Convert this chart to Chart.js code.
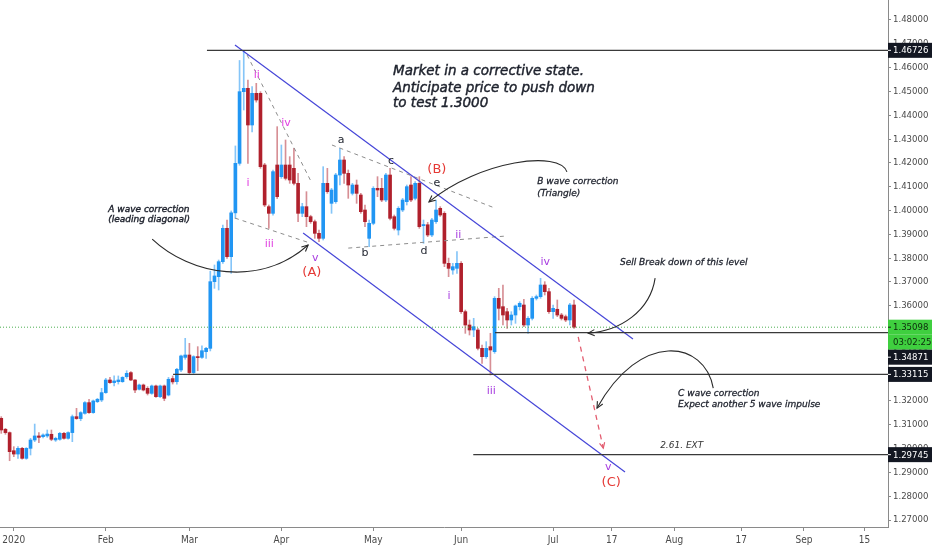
<!DOCTYPE html>
<html><head><meta charset="utf-8">
<script src="https://cdn.jsdelivr.net/npm/chart.js@4.4.1/dist/chart.umd.min.js"></script>
<style>html,body{margin:0;padding:0;background:#fff;}#wrap{width:932px;height:550px;position:relative;}</style>
</head><body><div id="wrap"><canvas id="c" width="932" height="550"></canvas></div>
<script>
// ---- DATA (daily candles, trading-day index; index 0 = 1 Jan 2020) ----
const firstIndex = -2;
const openP = [1.3127,1.3081,1.3067,1.2991,1.2977,1.3001,1.2959,1.3001,1.3036,1.3053,1.3050,1.3053,1.3060,1.3036,1.3039,1.3064,1.3043,1.3067,1.3134,1.3126,1.3148,1.3193,1.3151,1.3197,1.3204,1.3235,1.3288,1.3277,1.3281,1.3281,1.3302,1.3319,1.3288,1.3249,1.3267,1.3253,1.3232,1.3263,1.3218,1.3263,1.3225,1.3294,1.3281,1.3330,1.3383,1.3393,1.3319,1.3386,1.3383,1.3407,1.3421,1.3701,1.3722,1.3785,1.3925,1.3806,1.3990,1.4198,1.4499,1.4513,1.4359,1.4492,1.4492,1.4191,1.4016,1.3988,1.4191,1.4142,1.4191,1.4191,1.4177,1.4114,1.3988,1.4016,1.3974,1.3953,1.3904,1.3883,1.4114,1.4030,1.4037,1.4149,1.4212,1.4156,1.4072,1.4107,1.4065,1.4002,1.3883,1.3946,1.4093,1.4093,1.4044,1.4149,1.3974,1.3918,1.4002,1.4037,1.4107,1.4051,1.4114,1.3936,1.3940,1.3897,1.3953,1.4009,1.3988,1.3778,1.3750,1.3757,1.3778,1.3575,1.3519,1.3498,1.3498,1.3421,1.3386,1.3428,1.3407,1.3631,1.3596,1.3575,1.3540,1.3561,1.3596,1.3603,1.3519,1.3547,1.3631,1.3638,1.3687,1.3659,1.3575,1.3585,1.3561,1.3554,1.3540,1.3603];
const highP = [1.3134,1.3085,1.3070,1.3008,1.3008,1.3005,1.3004,1.3043,1.3103,1.3067,1.3062,1.3078,1.3078,1.3048,1.3068,1.3068,1.3070,1.3141,1.3169,1.3155,1.3197,1.3207,1.3204,1.3211,1.3253,1.3295,1.3299,1.3305,1.3305,1.3302,1.3327,1.3323,1.3290,1.3271,1.3271,1.3260,1.3267,1.3267,1.3267,1.3267,1.3299,1.3305,1.3337,1.3393,1.3463,1.3442,1.3390,1.3428,1.3431,1.3425,1.3745,1.3771,1.3792,1.3939,1.3960,1.3998,1.4271,1.4630,1.4672,1.4548,1.4520,1.4534,1.4499,1.4198,1.4023,1.4170,1.4352,1.4275,1.4296,1.4226,1.4261,1.4156,1.4030,1.4079,1.3980,1.3960,1.3918,1.4184,1.4177,1.4093,1.4156,1.4261,1.4226,1.4170,1.4114,1.4128,1.4072,1.4023,1.3960,1.4100,1.4142,1.4135,1.4156,1.4177,1.3981,1.4016,1.4051,1.4107,1.4142,1.4121,1.4142,1.3960,1.3950,1.3967,1.4044,1.4016,1.3995,1.3800,1.3778,1.3827,1.3785,1.3582,1.3540,1.3547,1.3505,1.3435,1.3449,1.3484,1.3638,1.3673,1.3687,1.3589,1.3575,1.3603,1.3617,1.3627,1.3554,1.3638,1.3645,1.3715,1.3701,1.3673,1.3603,1.3624,1.3568,1.3561,1.3610,1.3624];
const lowP = [1.3064,1.3060,1.2949,1.2966,1.2959,1.2955,1.2955,1.2973,1.3029,1.3025,1.3045,1.3047,1.3033,1.3030,1.3035,1.3040,1.3040,1.3029,1.3123,1.3117,1.3145,1.3148,1.3148,1.3193,1.3197,1.3232,1.3274,1.3263,1.3271,1.3278,1.3295,1.3285,1.3235,1.3246,1.3242,1.3225,1.3228,1.3215,1.3214,1.3201,1.3221,1.3271,1.3271,1.3323,1.3375,1.3313,1.3315,1.3327,1.3379,1.3379,1.3410,1.3673,1.3666,1.3778,1.3799,1.3736,1.3967,1.4190,1.4422,1.4198,1.4330,1.4455,1.4177,1.4016,1.3925,1.3980,1.4050,1.4135,1.4128,1.4114,1.4107,1.3953,1.3974,1.3932,1.3946,1.3883,1.3869,1.3876,1.4072,1.3988,1.4030,1.4107,1.4114,1.4051,1.4065,1.4030,1.3988,1.3932,1.3848,1.3940,1.4058,1.4037,1.4037,1.3960,1.3918,1.3897,1.3995,1.4023,1.4037,1.4044,1.3925,1.3862,1.3890,1.3890,1.3946,1.3975,1.3764,1.3722,1.3732,1.3736,1.3568,1.3484,1.3477,1.3470,1.3414,1.3358,1.3379,1.3309,1.3400,1.3540,1.3519,1.3505,1.3519,1.3526,1.3582,1.3512,1.3484,1.3540,1.3624,1.3631,1.3645,1.3568,1.3547,1.3554,1.3540,1.3533,1.3519,1.3505];
const closeP = [1.3078,1.3067,1.2987,1.2977,1.3001,1.2959,1.3001,1.3036,1.3053,1.3047,1.3057,1.3061,1.3039,1.3043,1.3064,1.3043,1.3067,1.3134,1.3126,1.3151,1.3193,1.3151,1.3200,1.3207,1.3235,1.3288,1.3277,1.3284,1.3288,1.3299,1.3316,1.3288,1.3246,1.3267,1.3246,1.3232,1.3263,1.3218,1.3263,1.3211,1.3291,1.3280,1.3333,1.3389,1.3393,1.3319,1.3386,1.3382,1.3411,1.3421,1.3701,1.3725,1.3785,1.3925,1.3806,1.3990,1.4198,1.4499,1.4513,1.4359,1.4492,1.4464,1.4184,1.4023,1.3988,1.4163,1.4058,1.4191,1.4135,1.4128,1.4114,1.3988,1.4016,1.3974,1.3953,1.3904,1.3883,1.4114,1.4079,1.4086,1.4149,1.4212,1.4156,1.4107,1.4107,1.4072,1.3995,1.3953,1.3946,1.4093,1.4086,1.4044,1.4149,1.3967,1.3925,1.4009,1.4044,1.4100,1.4044,1.4114,1.3932,1.3941,1.3897,1.3960,1.4002,1.3981,1.3778,1.3757,1.3764,1.3778,1.3575,1.3519,1.3498,1.3512,1.3421,1.3386,1.3421,1.3414,1.3631,1.3589,1.3561,1.3540,1.3561,1.3599,1.3610,1.3519,1.3547,1.3631,1.3638,1.3687,1.3659,1.3575,1.3589,1.3561,1.3547,1.3540,1.3603,1.35098];

const xTickValues = [1, 23, 43, 65, 87, 108, 130, 144, 159, 175, 190, 204.5];
const xTickLabels = ['2020','Feb','Mar','Apr','May','Jun','Jul','17','Aug','17','Sep','15'];
const yTickValues = [1.27,1.28,1.29,1.30,1.31,1.32,1.33,1.34,1.35,1.36,1.37,1.38,1.39,1.40,1.41,1.42,1.43,1.44,1.45,1.46,1.47,1.48];

// horizontal levels: price and starting index
const levelPrices = [1.46726, 1.33115, 1.34871, 1.29745];
const levelStarts = [47.2, 39.1, 116.1, 110.9];
const lastPrice = 1.35098;
const countdown = '03:02:25';

// channel and wave structure lines [x1, y1, x2, y2] in (index, price)
const channelUpper = [53.9, 1.4695, 149.1, 1.3460];
const channelLower = [70.2, 1.3905, 147.2, 1.2902];
const diagUpper = [56.8, 1.4653, 72.3, 1.4115];
const diagLower = [53.9, 1.3968, 71.9, 1.3863];
const triUpper = [77.1, 1.4275, 116.1, 1.4010];
const triLower = [81.0, 1.3842, 119.0, 1.3893];
const projection = [136.0, 1.3469, 142.0, 1.3002];

// ---- chart ----
const XMIN = -2.3, XMAX = 210.1, YMIN = 1.26706, YMAX = 1.4884;
const xs = openP.map((_, i) => firstIndex + i);
const up = openP.map((o, i) => closeP[i] >= o);
const UP = '#2196f3', DN = '#b0202c';
const UPW = 'rgba(33,150,243,0.55)', DNW = 'rgba(176,32,44,0.5)';

function seg(a, color, width, dash) {
  return { type: 'line', data: [{x: a[0], y: a[1]}, {x: a[2], y: a[3]}], borderColor: color, borderWidth: width,
    borderDash: dash || [], pointRadius: 0, fill: false, tension: 0, order: 0 };
}
const datasets = [
  { type: 'bar', data: xs.map((x, i) => ({x, y: [lowP[i], highP[i]]})), backgroundColor: up.map(u => u ? UPW : DNW),
    barThickness: 1, grouped: false, order: 6, borderWidth: 0 },
  { type: 'bar', data: xs.map((x, i) => ({x, y: [Math.min(openP[i], closeP[i]), Math.max(openP[i], closeP[i])]})),
    backgroundColor: up.map(u => u ? UP : DN), barThickness: 3, grouped: false, minBarLength: 1, order: 5, borderWidth: 0 },
  seg([XMIN, lastPrice, XMAX, lastPrice], '#4caf50', 1, [1, 2]),
];
levelPrices.forEach((p, i) => datasets.push(seg([levelStarts[i], p, XMAX, p], '#3a3a3a', 1.3)));
datasets.push(seg(channelUpper, '#4646d8', 1.2));
datasets.push(seg(channelLower, '#4646d8', 1.2));
[diagUpper, diagLower, triUpper, triLower].forEach(a => datasets.push(seg(a, '#8c8c8c', 1, [4, 4])));
datasets.push(seg(projection, '#e35d70', 1.3, [5, 5]));

// curved arrows: [start, cp1, cp2, end] in (index, price)
const arrows = [
  [[34.1, 1.3880], [43.2, 1.3729], [59.9, 1.3674], [71.4, 1.3855]],
  [[133.3, 1.4162], [131.7, 1.4254], [112.5, 1.4212], [100.3, 1.4036]],
  [[154.4, 1.3716], [153.2, 1.3578], [146.1, 1.3494], [138.4, 1.3485]],
  [[168.3, 1.3254], [166.3, 1.3455], [150.8, 1.3497], [140.5, 1.3170]],
];
const FONT = '"DejaVu Sans", sans-serif';
const MAG = '#e040e0', PUR = '#a83de0', RED = '#e53935', INK = '#1e222d';
const BIG = 'italic 13.5px ' + FONT, SM = 'italic 9px ' + FONT;
const notes = [
  {t: 'Market in a corrective state.', x: 91.7, y: 1.4585, f: BIG, c: INK, w: 0.45},
  {t: 'Anticipate price to push down', x: 91.7, y: 1.4513, f: BIG, c: INK, w: 0.45},
  {t: 'to test 1.3000', x: 91.7, y: 1.4450, f: BIG, c: INK, w: 0.45},
  {t: 'A wave correction', x: 23.6, y: 1.4004, f: SM, c: INK, w: 0.4},
  {t: '(leading diagonal)', x: 23.6, y: 1.3960, f: SM, c: INK, w: 0.4},
  {t: 'B wave correction', x: 126.2, y: 1.4120, f: SM, c: INK, w: 0.3},
  {t: '(Triangle)', x: 126.2, y: 1.4069, f: SM, c: INK, w: 0.3},
  {t: 'Sell Break down of this level', x: 146.0, y: 1.3779, f: SM, c: INK, w: 0.3},
  {t: 'C wave correction', x: 159.9, y: 1.3229, f: SM, c: INK, w: 0.3},
  {t: 'Expect another 5 wave impulse', x: 159.9, y: 1.3183, f: SM, c: INK, w: 0.3},
  {t: '2.61. EXT', x: 155.6, y: 1.3011, f: SM, c: '#333'},
  {t: 'ii', x: 59.1, y: 1.4569, f: '11px ' + FONT, c: MAG, a: 'center'},
  {t: 'iv', x: 66.1, y: 1.4367, f: '11px ' + FONT, c: MAG, a: 'center'},
  {t: 'i', x: 57.0, y: 1.4115, f: '11px ' + FONT, c: MAG, a: 'center'},
  {t: 'iii', x: 62.1, y: 1.3859, f: '11px ' + FONT, c: MAG, a: 'center'},
  {t: 'v', x: 73.1, y: 1.3800, f: '11px ' + FONT, c: PUR, a: 'center'},
  {t: '(A)', x: 72.3, y: 1.3737, f: '13px ' + FONT, c: RED, a: 'center'},
  {t: 'a', x: 79.3, y: 1.4296, f: '11px ' + FONT, c: INK, a: 'center'},
  {t: 'b', x: 85.0, y: 1.3821, f: '11px ' + FONT, c: INK, a: 'center'},
  {t: 'c', x: 91.2, y: 1.4208, f: '11px ' + FONT, c: INK, a: 'center'},
  {t: 'd', x: 99.1, y: 1.3830, f: '11px ' + FONT, c: INK, a: 'center'},
  {t: 'e', x: 102.2, y: 1.4115, f: '11px ' + FONT, c: INK, a: 'center'},
  {t: '(B)', x: 102.2, y: 1.4170, f: '13px ' + FONT, c: RED, a: 'center'},
  {t: 'ii', x: 107.3, y: 1.3897, f: '11px ' + FONT, c: PUR, a: 'center'},
  {t: 'i', x: 105.1, y: 1.3641, f: '11px ' + FONT, c: PUR, a: 'center'},
  {t: 'iii', x: 115.2, y: 1.3242, f: '11px ' + FONT, c: PUR, a: 'center'},
  {t: 'iv', x: 128.1, y: 1.3784, f: '11px ' + FONT, c: PUR, a: 'center'},
  {t: 'v', x: 143.2, y: 1.2923, f: '11px ' + FONT, c: PUR, a: 'center'},
  {t: '(C)', x: 143.9, y: 1.2855, f: '13px ' + FONT, c: RED, a: 'center'},
];
const priceBoxes = [
  {v: levelPrices[0], t: levelPrices[0].toFixed(5), bg: '#131722', fg: '#ffffff'},
  {v: lastPrice, t: lastPrice.toFixed(5), bg: '#3fcf3f', fg: '#0d2a0d', next: countdown},
  {v: levelPrices[2], t: levelPrices[2].toFixed(5), bg: '#131722', fg: '#ffffff'},
  {v: levelPrices[1], t: levelPrices[1].toFixed(5), bg: '#131722', fg: '#ffffff'},
  {v: levelPrices[3], t: levelPrices[3].toFixed(5), bg: '#131722', fg: '#ffffff'},
];
const AXFONT = '"Liberation Sans Narrow", "DejaVu Sans Condensed", "Liberation Sans", sans-serif';

function head(ctx, x0, y0, x1, y1, len) {
  const ang = Math.atan2(y1 - y0, x1 - x0);
  ctx.beginPath();
  ctx.moveTo(x1 - len * Math.cos(ang - 0.45), y1 - len * Math.sin(ang - 0.45));
  ctx.lineTo(x1, y1);
  ctx.lineTo(x1 - len * Math.cos(ang + 0.45), y1 - len * Math.sin(ang + 0.45));
  ctx.stroke();
}
const annot = {
  id: 'annot',
  afterDatasetsDraw(chart) {
    const {ctx, chartArea: ca, scales: {x, y}} = chart;
    const X = v => x.getPixelForValue(v), Y = v => y.getPixelForValue(v);
    ctx.save();
    ctx.beginPath(); ctx.rect(ca.left, ca.top, ca.right - ca.left, ca.bottom - ca.top); ctx.clip();
    ctx.strokeStyle = '#2a2a2a'; ctx.lineWidth = 1.1;
    arrows.forEach(a => {
      const p = a.map(q => [X(q[0]), Y(q[1])]);
      ctx.beginPath(); ctx.moveTo(p[0][0], p[0][1]);
      ctx.bezierCurveTo(p[1][0], p[1][1], p[2][0], p[2][1], p[3][0], p[3][1]); ctx.stroke();
      head(ctx, p[2][0], p[2][1], p[3][0], p[3][1], 7);
    });
    ctx.strokeStyle = '#e35d70'; ctx.lineWidth = 1.2;
    head(ctx, X(projection[0]), Y(projection[1]), X(projection[2]), Y(projection[3]), 6);
    ctx.textBaseline = 'middle';
    notes.forEach(n => {
      ctx.font = n.f; ctx.fillStyle = n.c; ctx.textAlign = n.a || 'left';
      ctx.fillText(n.t, X(n.x), Y(n.y));
      if (n.w) { ctx.strokeStyle = n.c; ctx.lineWidth = n.w; ctx.strokeText(n.t, X(n.x), Y(n.y)); }
    });
    ctx.restore();
  },
  afterDraw(chart) {
    const {ctx, chartArea: ca, scales: {y}} = chart;
    const H = 15;
    const items = [];
    priceBoxes.forEach(b => {
      items.push({cy: y.getPixelForValue(b.v), t: b.t, bg: b.bg, fg: b.fg});
      if (b.next) items.push({cy: null, t: b.next, bg: b.bg, fg: b.fg, follow: true});
    });
    let lastBottom = -Infinity;
    items.forEach(it => {
      let top = it.follow ? lastBottom : it.cy - H / 2;
      if (top < lastBottom) top = lastBottom;
      it.top = top; lastBottom = top + H;
    });
    ctx.save();
    ctx.font = '9.5px ' + AXFONT;
    ctx.textBaseline = 'middle'; ctx.textAlign = 'left';
    items.forEach(it => {
      ctx.fillStyle = it.bg; ctx.fillRect(ca.right, it.top, chart.width - ca.right, H);
      ctx.fillStyle = it.fg; ctx.fillText(it.t, ca.right + 5, it.top + H / 2 + 0.5);
      if (!it.follow) { ctx.strokeStyle = it.fg; ctx.lineWidth = 1; ctx.beginPath();
        ctx.moveTo(ca.right, it.top + H / 2); ctx.lineTo(ca.right + 3, it.top + H / 2); ctx.stroke(); }
    });
    ctx.restore();
  }
};

new Chart(document.getElementById('c'), {
  type: 'bar',
  data: {datasets},
  plugins: [annot],
  options: {
    responsive: false, animation: false, events: [],
    layout: {padding: 0},
    plugins: {legend: {display: false}, tooltip: {enabled: false}},
    scales: {
      x: {type: 'linear', min: XMIN, max: XMAX, offset: false,
        afterBuildTicks: s => { s.ticks = xTickValues.map(v => ({value: v})); },
        afterFit: s => { s.height = 23; s.paddingLeft = 0; s.paddingRight = 0; },
        ticks: {callback: (v, i) => xTickLabels[i], autoSkip: false, maxRotation: 0, minRotation: 0,
          font: {size: 10, family: AXFONT}, color: '#4a4a4a', padding: 3},
        grid: {drawOnChartArea: false, drawTicks: true, tickLength: 4, color: '#8a8a8a', offset: false},
        border: {display: true, color: '#8a8a8a', width: 1}},
      y: {type: 'linear', position: 'right', min: YMIN, max: YMAX,
        afterBuildTicks: s => { s.ticks = yTickValues.map(v => ({value: v})); },
        afterFit: s => { s.width = 44; s.paddingTop = 0; s.paddingBottom = 0; },
        ticks: {callback: v => Number(v).toFixed(5), font: {size: 9.5, family: AXFONT}, color: '#4a4a4a', padding: 2},
        grid: {drawOnChartArea: false, drawTicks: true, tickLength: 3, color: '#8a8a8a'},
        border: {display: true, color: '#8a8a8a', width: 1}}
    }
  }
});
</script></body></html>
